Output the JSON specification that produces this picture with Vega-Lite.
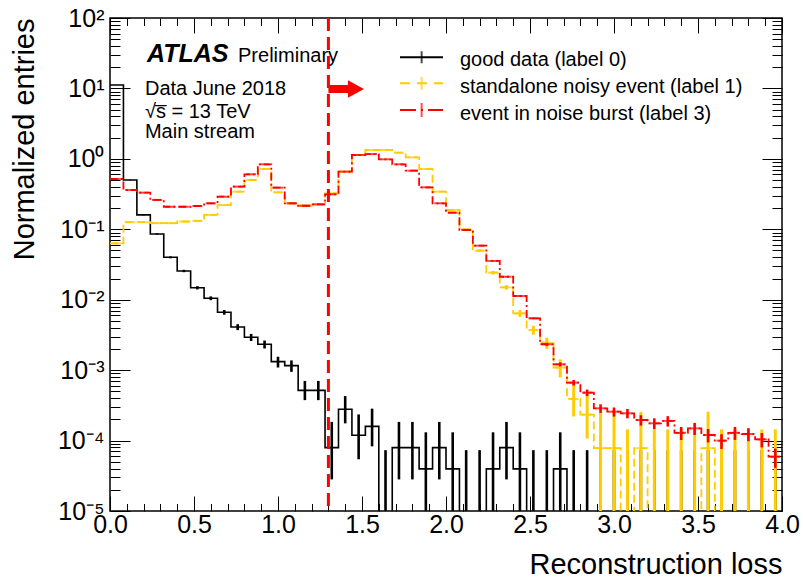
{
"$schema":"https://vega.github.io/schema/vega-lite/v6.json",
"width":672,"height":493,
"autosize":{"type":"none"},
"padding":{"left":110,"top":18,"right":21,"bottom":70},
"background":"#ffffff",
"config":{"view":{"stroke":"#000","strokeWidth":1.5},"font":"Liberation Sans",
 "axis":{"grid":false,"domain":false,"tickColor":"#000","tickWidth":1,"labelColor":"#000","titleColor":"#000","labelFont":"Liberation Sans","titleFont":"Liberation Sans","titleFontWeight":"normal"}},
"resolve":{"axis":{"x":"independent","y":"independent"}},
"datasets":{"h":[
{"s":"g","x0":0,"xc":0.04,"v":11.2,"lo":11.18,"hi":11.22},
{"s":"g","x0":0.08,"xc":0.12,"v":0.5,"lo":0.4955,"hi":0.5045},
{"s":"g","x0":0.16,"xc":0.2,"v":0.16,"lo":0.1575,"hi":0.1625},
{"s":"g","x0":0.24,"xc":0.28,"v":0.0857,"lo":0.0839,"hi":0.0875},
{"s":"g","x0":0.32,"xc":0.36,"v":0.04,"lo":0.0387,"hi":0.0413},
{"s":"g","x0":0.4,"xc":0.44,"v":0.0256,"lo":0.0246,"hi":0.0266},
{"s":"g","x0":0.48,"xc":0.52,"v":0.0148,"lo":0.014,"hi":0.0156},
{"s":"g","x0":0.56,"xc":0.6,"v":0.0105,"lo":0.00985,"hi":0.01115},
{"s":"g","x0":0.64,"xc":0.68,"v":0.00663,"lo":0.00612,"hi":0.00714},
{"s":"g","x0":0.72,"xc":0.76,"v":0.0041,"lo":0.0037,"hi":0.0045},
{"s":"g","x0":0.8,"xc":0.84,"v":0.00293,"lo":0.00259,"hi":0.00327},
{"s":"g","x0":0.88,"xc":0.92,"v":0.00233,"lo":0.00203,"hi":0.00263},
{"s":"g","x0":0.96,"xc":1.0,"v":0.00132,"lo":0.00109,"hi":0.00155},
{"s":"g","x0":1.04,"xc":1.08,"v":0.00116,"lo":0.000945,"hi":0.001375},
{"s":"g","x0":1.12,"xc":1.16,"v":0.000516,"lo":0.000375,"hi":0.000703},
{"s":"g","x0":1.2,"xc":1.24,"v":0.000516,"lo":0.000375,"hi":0.000703},
{"s":"g","x0":1.28,"xc":1.32,"v":0.0000794,"lo":0.0000281,"hi":0.000184},
{"s":"g","x0":1.36,"xc":1.4,"v":0.000278,"lo":0.0001755,"hi":0.000428},
{"s":"g","x0":1.44,"xc":1.48,"v":0.000119,"lo":0.0000543,"hi":0.000235},
{"s":"g","x0":1.52,"xc":1.56,"v":0.000159,"lo":0.0000828,"hi":0.000284},
{"s":"g","x0":1.6,"xc":1.64,"v":1e-7,"lo":1e-7,"hi":0.0000731},
{"s":"g","x0":1.68,"xc":1.72,"v":0.0000794,"lo":0.0000281,"hi":0.000184},
{"s":"g","x0":1.76,"xc":1.8,"v":0.0000794,"lo":0.0000281,"hi":0.000184},
{"s":"g","x0":1.84,"xc":1.88,"v":0.0000397,"lo":0.0000069,"hi":0.000131},
{"s":"g","x0":1.92,"xc":1.96,"v":0.0000794,"lo":0.0000281,"hi":0.000184},
{"s":"g","x0":2.0,"xc":2.04,"v":0.0000397,"lo":0.0000069,"hi":0.000131},
{"s":"g","x0":2.08,"xc":2.12,"v":1e-7,"lo":1e-7,"hi":0.0000731},
{"s":"g","x0":2.16,"xc":2.2,"v":1e-7,"lo":1e-7,"hi":0.0000731},
{"s":"g","x0":2.24,"xc":2.28,"v":0.0000397,"lo":0.0000069,"hi":0.000131},
{"s":"g","x0":2.32,"xc":2.36,"v":0.0000794,"lo":0.0000281,"hi":0.000184},
{"s":"g","x0":2.4,"xc":2.44,"v":0.0000397,"lo":0.0000069,"hi":0.000131},
{"s":"g","x0":2.48,"xc":2.52,"v":1e-7,"lo":1e-7,"hi":0.0000731},
{"s":"g","x0":2.56,"xc":2.6,"v":1e-7,"lo":1e-7,"hi":0.0000731},
{"s":"g","x0":2.64,"xc":2.68,"v":0.0000397,"lo":0.0000069,"hi":0.000131},
{"s":"g","x0":2.72,"xc":2.76,"v":1e-7,"lo":1e-7,"hi":0.0000731},
{"s":"g","x0":2.8,"xc":2.84,"v":1e-7,"lo":1e-7,"hi":0.0000731},
{"s":"g","x0":2.88,"xc":2.92,"v":1e-7,"lo":1e-7,"hi":0.0000731},
{"s":"g","x0":2.96,"xc":3.0,"v":1e-7,"lo":1e-7,"hi":0.0000731},
{"s":"g","x0":3.04,"xc":3.08,"v":1e-7,"lo":1e-7,"hi":0.0000731},
{"s":"g","x0":3.12,"xc":3.16,"v":1e-7,"lo":1e-7,"hi":0.0000731},
{"s":"g","x0":3.2,"xc":3.24,"v":1e-7,"lo":1e-7,"hi":0.0000731},
{"s":"g","x0":3.28,"xc":3.32,"v":1e-7,"lo":1e-7,"hi":0.0000731},
{"s":"g","x0":3.36,"xc":3.4,"v":1e-7,"lo":1e-7,"hi":0.0000731},
{"s":"g","x0":3.44,"xc":3.48,"v":1e-7,"lo":1e-7,"hi":0.0000731},
{"s":"g","x0":3.52,"xc":3.56,"v":1e-7,"lo":1e-7,"hi":0.0000731},
{"s":"g","x0":3.6,"xc":3.64,"v":1e-7,"lo":1e-7,"hi":0.0000731},
{"s":"g","x0":3.68,"xc":3.72,"v":1e-7,"lo":1e-7,"hi":0.0000731},
{"s":"g","x0":3.76,"xc":3.8,"v":1e-7,"lo":1e-7,"hi":0.0000731},
{"s":"g","x0":3.84,"xc":3.88,"v":1e-7,"lo":1e-7,"hi":0.0000731},
{"s":"g","x0":3.92,"xc":3.96,"v":1e-7,"lo":1e-7,"hi":0.0000731},
{"s":"g","x0":4.0,"v":1e-7},
{"s":"n","x0":0,"xc":0.04,"v":0.0632,"lo":0.061,"hi":0.0654},
{"s":"n","x0":0.08,"xc":0.12,"v":0.126,"lo":0.1229,"hi":0.1291},
{"s":"n","x0":0.16,"xc":0.2,"v":0.126,"lo":0.1229,"hi":0.1291},
{"s":"n","x0":0.24,"xc":0.28,"v":0.122,"lo":0.1189,"hi":0.1251},
{"s":"n","x0":0.32,"xc":0.36,"v":0.122,"lo":0.1189,"hi":0.1251},
{"s":"n","x0":0.4,"xc":0.44,"v":0.129,"lo":0.1258,"hi":0.1322},
{"s":"n","x0":0.48,"xc":0.52,"v":0.132,"lo":0.1288,"hi":0.1352},
{"s":"n","x0":0.56,"xc":0.6,"v":0.16,"lo":0.1565,"hi":0.1635},
{"s":"n","x0":0.64,"xc":0.68,"v":0.221,"lo":0.2168,"hi":0.2252},
{"s":"n","x0":0.72,"xc":0.76,"v":0.342,"lo":0.3369,"hi":0.3471},
{"s":"n","x0":0.8,"xc":0.84,"v":0.501,"lo":0.4947,"hi":0.5073},
{"s":"n","x0":0.88,"xc":0.92,"v":0.718,"lo":0.7105,"hi":0.7255},
{"s":"n","x0":0.96,"xc":1.0,"v":0.335,"lo":0.33,"hi":0.34},
{"s":"n","x0":1.04,"xc":1.08,"v":0.234,"lo":0.2298,"hi":0.2382},
{"s":"n","x0":1.12,"xc":1.16,"v":0.216,"lo":0.2119,"hi":0.2201},
{"s":"n","x0":1.2,"xc":1.24,"v":0.226,"lo":0.2218,"hi":0.2302},
{"s":"n","x0":1.28,"xc":1.32,"v":0.324,"lo":0.319,"hi":0.329},
{"s":"n","x0":1.36,"xc":1.4,"v":0.658,"lo":0.6508,"hi":0.6652},
{"s":"n","x0":1.44,"xc":1.48,"v":1.135,"lo":1.1256,"hi":1.1444},
{"s":"n","x0":1.52,"xc":1.56,"v":1.336,"lo":1.3258,"hi":1.3462},
{"s":"n","x0":1.6,"xc":1.64,"v":1.336,"lo":1.3258,"hi":1.3462},
{"s":"n","x0":1.68,"xc":1.72,"v":1.223,"lo":1.2132,"hi":1.2328},
{"s":"n","x0":1.76,"xc":1.8,"v":1.052,"lo":1.043,"hi":1.061},
{"s":"n","x0":1.84,"xc":1.88,"v":0.718,"lo":0.7105,"hi":0.7255},
{"s":"n","x0":1.92,"xc":1.96,"v":0.342,"lo":0.3369,"hi":0.3471},
{"s":"n","x0":2.0,"xc":2.04,"v":0.188,"lo":0.1842,"hi":0.1918},
{"s":"n","x0":2.08,"xc":2.12,"v":0.1,"lo":0.0972,"hi":0.1028},
{"s":"n","x0":2.16,"xc":2.2,"v":0.0497,"lo":0.0477,"hi":0.0517},
{"s":"n","x0":2.24,"xc":2.28,"v":0.0242,"lo":0.0228,"hi":0.0256},
{"s":"n","x0":2.32,"xc":2.36,"v":0.015,"lo":0.0139,"hi":0.0161},
{"s":"n","x0":2.4,"xc":2.44,"v":0.00641,"lo":0.0057,"hi":0.00712},
{"s":"n","x0":2.48,"xc":2.52,"v":0.00372,"lo":0.00318,"hi":0.00426},
{"s":"n","x0":2.56,"xc":2.6,"v":0.00245,"lo":0.00201,"hi":0.00289},
{"s":"n","x0":2.64,"xc":2.68,"v":0.00109,"lo":0.00079,"hi":0.00142},
{"s":"n","x0":2.72,"xc":2.76,"v":0.00039,"lo":0.00022,"hi":0.00065},
{"s":"n","x0":2.8,"xc":2.84,"v":0.000234,"lo":0.000107,"hi":0.000462},
{"s":"n","x0":2.88,"xc":2.92,"v":0.000078,"lo":0.000009,"hi":0.000257},
{"s":"n","x0":2.96,"xc":3.0,"v":0.000078,"lo":0.000009,"hi":0.000257},
{"s":"n","x0":3.04,"xc":3.08,"v":1e-7,"lo":1e-7,"hi":0.000144},
{"s":"n","x0":3.12,"xc":3.16,"v":0.000078,"lo":0.000009,"hi":0.000257},
{"s":"n","x0":3.2,"xc":3.24,"v":1e-7,"lo":1e-7,"hi":0.000144},
{"s":"n","x0":3.28,"xc":3.32,"v":1e-7,"lo":1e-7,"hi":0.000144},
{"s":"n","x0":3.36,"xc":3.4,"v":1e-7,"lo":1e-7,"hi":0.000144},
{"s":"n","x0":3.44,"xc":3.48,"v":1e-7,"lo":1e-7,"hi":0.000144},
{"s":"n","x0":3.52,"xc":3.56,"v":0.000078,"lo":0.000009,"hi":0.000257},
{"s":"n","x0":3.6,"xc":3.64,"v":1e-7,"lo":1e-7,"hi":0.000144},
{"s":"n","x0":3.68,"xc":3.72,"v":1e-7,"lo":1e-7,"hi":0.000144},
{"s":"n","x0":3.76,"xc":3.8,"v":1e-7,"lo":1e-7,"hi":0.000144},
{"s":"n","x0":3.84,"xc":3.88,"v":1e-7,"lo":1e-7,"hi":0.000144},
{"s":"n","x0":3.92,"xc":3.96,"v":1e-7,"lo":1e-7,"hi":0.000144},
{"s":"n","x0":4.0,"v":1e-7},
{"s":"b","x0":0,"xc":0.04,"v":0.518,"lo":0.5163,"hi":0.5197},
{"s":"b","x0":0.08,"xc":0.12,"v":0.361,"lo":0.3596,"hi":0.3624},
{"s":"b","x0":0.16,"xc":0.2,"v":0.331,"lo":0.3296,"hi":0.3324},
{"s":"b","x0":0.24,"xc":0.28,"v":0.261,"lo":0.2598,"hi":0.2622},
{"s":"b","x0":0.32,"xc":0.36,"v":0.209,"lo":0.2079,"hi":0.2101},
{"s":"b","x0":0.4,"xc":0.44,"v":0.209,"lo":0.2079,"hi":0.2101},
{"s":"b","x0":0.48,"xc":0.52,"v":0.214,"lo":0.2129,"hi":0.2151},
{"s":"b","x0":0.56,"xc":0.6,"v":0.234,"lo":0.2329,"hi":0.2351},
{"s":"b","x0":0.64,"xc":0.68,"v":0.29,"lo":0.2887,"hi":0.2913},
{"s":"b","x0":0.72,"xc":0.76,"v":0.403,"lo":0.4015,"hi":0.4045},
{"s":"b","x0":0.8,"xc":0.84,"v":0.604,"lo":0.6022,"hi":0.6058},
{"s":"b","x0":0.88,"xc":0.92,"v":0.837,"lo":0.8348,"hi":0.8392},
{"s":"b","x0":0.96,"xc":1.0,"v":0.39,"lo":0.3885,"hi":0.3915},
{"s":"b","x0":1.04,"xc":1.08,"v":0.234,"lo":0.2329,"hi":0.2351},
{"s":"b","x0":1.12,"xc":1.16,"v":0.216,"lo":0.2149,"hi":0.2171},
{"s":"b","x0":1.2,"xc":1.24,"v":0.226,"lo":0.2249,"hi":0.2271},
{"s":"b","x0":1.28,"xc":1.32,"v":0.314,"lo":0.3127,"hi":0.3153},
{"s":"b","x0":1.36,"xc":1.4,"v":0.658,"lo":0.6561,"hi":0.6599},
{"s":"b","x0":1.44,"xc":1.48,"v":1.135,"lo":1.1325,"hi":1.1375},
{"s":"b","x0":1.52,"xc":1.56,"v":1.17,"lo":1.1675,"hi":1.1725},
{"s":"b","x0":1.6,"xc":1.64,"v":0.986,"lo":0.9837,"hi":0.9883},
{"s":"b","x0":1.68,"xc":1.72,"v":0.837,"lo":0.8348,"hi":0.8392},
{"s":"b","x0":1.76,"xc":1.8,"v":0.679,"lo":0.6771,"hi":0.6809},
{"s":"b","x0":1.84,"xc":1.88,"v":0.394,"lo":0.3925,"hi":0.3955},
{"s":"b","x0":1.92,"xc":1.96,"v":0.234,"lo":0.2329,"hi":0.2351},
{"s":"b","x0":2.0,"xc":2.04,"v":0.172,"lo":0.171,"hi":0.173},
{"s":"b","x0":2.08,"xc":2.12,"v":0.0977,"lo":0.097,"hi":0.0984},
{"s":"b","x0":2.16,"xc":2.2,"v":0.0585,"lo":0.0579,"hi":0.0591},
{"s":"b","x0":2.24,"xc":2.28,"v":0.0355,"lo":0.0351,"hi":0.0359},
{"s":"b","x0":2.32,"xc":2.36,"v":0.0212,"lo":0.0209,"hi":0.0215},
{"s":"b","x0":2.4,"xc":2.44,"v":0.0113,"lo":0.01105,"hi":0.01155},
{"s":"b","x0":2.48,"xc":2.52,"v":0.00545,"lo":0.00528,"hi":0.00562},
{"s":"b","x0":2.56,"xc":2.6,"v":0.00233,"lo":0.002216,"hi":0.002444},
{"s":"b","x0":2.64,"xc":2.68,"v":0.00121,"lo":0.001129,"hi":0.001291},
{"s":"b","x0":2.72,"xc":2.76,"v":0.000664,"lo":0.000604,"hi":0.000724},
{"s":"b","x0":2.8,"xc":2.84,"v":0.000479,"lo":0.000428,"hi":0.00053},
{"s":"b","x0":2.88,"xc":2.92,"v":0.000287,"lo":0.000247,"hi":0.000327},
{"s":"b","x0":2.96,"xc":3.0,"v":0.000257,"lo":0.000219,"hi":0.000295},
{"s":"b","x0":3.04,"xc":3.08,"v":0.000244,"lo":0.000207,"hi":0.000281},
{"s":"b","x0":3.12,"xc":3.16,"v":0.000196,"lo":0.000163,"hi":0.000229},
{"s":"b","x0":3.2,"xc":3.24,"v":0.000176,"lo":0.000145,"hi":0.000207},
{"s":"b","x0":3.28,"xc":3.32,"v":0.00019,"lo":0.000158,"hi":0.000222},
{"s":"b","x0":3.36,"xc":3.4,"v":0.000129,"lo":0.000102,"hi":0.000156},
{"s":"b","x0":3.44,"xc":3.48,"v":0.000149,"lo":0.00012,"hi":0.000178},
{"s":"b","x0":3.52,"xc":3.56,"v":0.00012,"lo":0.000094,"hi":0.000146},
{"s":"b","x0":3.6,"xc":3.64,"v":0.0000996,"lo":0.000076,"hi":0.000123},
{"s":"b","x0":3.68,"xc":3.72,"v":0.000129,"lo":0.000102,"hi":0.000156},
{"s":"b","x0":3.76,"xc":3.8,"v":0.000124,"lo":0.000098,"hi":0.00015},
{"s":"b","x0":3.84,"xc":3.88,"v":0.000104,"lo":0.00008,"hi":0.000128},
{"s":"b","x0":3.92,"xc":3.96,"v":0.000059,"lo":0.000041,"hi":0.000077},
{"s":"b","x0":4.0,"v":0.000059}
],
"one":[{"k":1}]},
"data":{"name":"h"},
"layer":[
{"transform":[{"filter":"datum.s=='g'"}],
 "mark":{"type":"line","interpolate":"step-after","color":"#000","strokeWidth":1.6,"clip":true},
 "encoding":{
  "x":{"field":"x0","type":"quantitative","scale":{"domain":[0,4],"nice":false,"zero":false},
   "axis":{"orient":"bottom","values":[0,0.5,1,1.5,2,2.5,3,3.5,4],"format":".1f","tickSize":-15,"labelPadding":16,"labelFontSize":25,"labelFlush":false,"labelOverlap":false,"title":"Reconstruction loss","titleFontSize":29,"titleAnchor":"end","titlePadding":13}},
  "y":{"field":"v","type":"quantitative","scale":{"type":"log","domain":[0.00001,100],"nice":false},
   "axis":{"orient":"left","values":[0.00001,0.0001,0.001,0.01,0.1,1,10,100],"tickSize":-20,"labelPadding":26,"labelFontSize":25,"labelFlush":false,"labelOverlap":false,
    "labelExpr":"datum.value >= 50 ? '10²' : datum.value >= 5 ? '10¹' : datum.value >= 0.5 ? '10⁰' : datum.value >= 0.05 ? '10⁻¹' : datum.value >= 0.005 ? '10⁻²' : datum.value >= 0.0005 ? '10⁻³' : datum.value >= 0.00005 ? '10⁻⁴' : '10⁻⁵'",
    "title":"Normalized entries","titleFontSize":29,"titleAnchor":"end","titlePadding":18}}}},
{"transform":[{"filter":"datum.s=='g' && isValid(datum.xc)"}],
 "mark":{"type":"rule","color":"#000","strokeWidth":2.6,"clip":true},
 "encoding":{"x":{"field":"xc","type":"quantitative","scale":{"domain":[0,4],"nice":false,"zero":false},"axis":null},
  "y":{"field":"lo","type":"quantitative","scale":{"type":"log","domain":[0.00001,100],"nice":false},"axis":null},"y2":{"field":"hi"}}},
{"transform":[{"filter":"datum.s=='n'"}],
 "mark":{"type":"line","interpolate":"step-after","color":"#ffcc00","strokeWidth":1.8,"strokeDash":[8,4],"clip":true},
 "encoding":{
  "x":{"field":"x0","type":"quantitative","scale":{"domain":[0,4],"nice":false,"zero":false},
   "axis":{"orient":"bottom","values":[0.1,0.2,0.3,0.4,0.6,0.7,0.8,0.9,1.1,1.2,1.3,1.4,1.6,1.7,1.8,1.9,2.1,2.2,2.3,2.4,2.6,2.7,2.8,2.9,3.1,3.2,3.3,3.4,3.6,3.7,3.8,3.9],"tickSize":-7.5,"labels":false,"title":null}},
  "y":{"field":"v","type":"quantitative","scale":{"type":"log","domain":[0.00001,100],"nice":false},
   "axis":{"orient":"left","values":[0.00002,0.00003,0.00004,0.00005,0.00006,0.00007,0.00008,0.00009,0.0002,0.0003,0.0004,0.0005,0.0006,0.0007,0.0008,0.0009,0.002,0.003,0.004,0.005,0.006,0.007,0.008,0.009,0.02,0.03,0.04,0.05,0.06,0.07,0.08,0.09,0.2,0.3,0.4,0.5,0.6,0.7,0.8,0.9,2,3,4,5,6,7,8,9,20,30,40,50,60,70,80,90],"tickSize":-10,"labels":false,"title":null}}}},
{"transform":[{"filter":"datum.s=='n' && isValid(datum.xc)"}],
 "mark":{"type":"rule","color":"#ffcc00","strokeWidth":3,"clip":true},
 "encoding":{"x":{"field":"xc","type":"quantitative","axis":null},
  "y":{"field":"lo","type":"quantitative","axis":null},"y2":{"field":"hi"}}},
{"transform":[{"filter":"datum.s=='n' && isValid(datum.xc) && datum.v > 0.000001"}],
 "mark":{"type":"tick","orient":"horizontal","color":"#ffcc00","size":10,"thickness":2,"clip":true},
 "encoding":{"x":{"field":"xc","type":"quantitative","axis":null},
  "y":{"field":"v","type":"quantitative","axis":null}}},
{"transform":[{"filter":"datum.s=='b'"}],
 "mark":{"type":"line","interpolate":"step-after","color":"#ff0000","strokeWidth":1.8,"strokeDash":[8,3,2,3],"clip":true},
 "encoding":{
  "x":{"field":"x0","type":"quantitative","scale":{"domain":[0,4],"nice":false,"zero":false},
   "axis":{"orient":"top","values":[0,0.5,1,1.5,2,2.5,3,3.5,4],"tickSize":-15,"labels":false,"title":null}},
  "y":{"field":"v","type":"quantitative","scale":{"type":"log","domain":[0.00001,100],"nice":false},
   "axis":{"orient":"right","values":[0.00001,0.0001,0.001,0.01,0.1,1,10,100],"tickSize":-20,"labels":false,"title":null}}}},
{"transform":[{"filter":"datum.s=='b' && isValid(datum.xc)"}],
 "mark":{"type":"rule","color":"#ff0000","strokeWidth":2.6,"clip":true},
 "encoding":{"x":{"field":"xc","type":"quantitative","scale":{"domain":[0,4],"nice":false,"zero":false},
   "axis":{"orient":"top","values":[0.1,0.2,0.3,0.4,0.6,0.7,0.8,0.9,1.1,1.2,1.3,1.4,1.6,1.7,1.8,1.9,2.1,2.2,2.3,2.4,2.6,2.7,2.8,2.9,3.1,3.2,3.3,3.4,3.6,3.7,3.8,3.9],"tickSize":-7.5,"labels":false,"title":null}},
  "y":{"field":"lo","type":"quantitative","scale":{"type":"log","domain":[0.00001,100],"nice":false},
   "axis":{"orient":"right","values":[0.00002,0.00003,0.00004,0.00005,0.00006,0.00007,0.00008,0.00009,0.0002,0.0003,0.0004,0.0005,0.0006,0.0007,0.0008,0.0009,0.002,0.003,0.004,0.005,0.006,0.007,0.008,0.009,0.02,0.03,0.04,0.05,0.06,0.07,0.08,0.09,0.2,0.3,0.4,0.5,0.6,0.7,0.8,0.9,2,3,4,5,6,7,8,9,20,30,40,50,60,70,80,90],"tickSize":-10,"labels":false,"title":null}},
  "y2":{"field":"hi"}}},
{"transform":[{"filter":"datum.s=='b' && isValid(datum.xc)"}],
 "mark":{"type":"tick","orient":"horizontal","color":"#ff0000","size":10,"thickness":2,"clip":true},
 "encoding":{"x":{"field":"xc","type":"quantitative","axis":null},
  "y":{"field":"v","type":"quantitative","axis":null}}},
{"data":{"name":"one"},
 "mark":{"type":"rule","color":"#ff0000","strokeWidth":3,"strokeDash":[13,6]},
 "encoding":{"x":{"datum":1.3,"type":"quantitative","axis":null}}},
{"data":{"name":"one"},
 "mark":{"type":"rule","color":"#ff0000","strokeWidth":8,"strokeCap":"butt"},
 "encoding":{"x":{"datum":1.3,"type":"quantitative","axis":null},"x2":{"datum":1.42},"y":{"datum":9.82,"type":"quantitative","axis":null}}},
{"data":{"name":"one"},
 "mark":{"type":"point","shape":"M-1,-1.1L1,0L-1,1.1Z","filled":true,"color":"#ff0000","opacity":1,"size":256},
 "encoding":{"x":{"datum":1.464,"type":"quantitative","axis":null},"y":{"datum":9.82,"type":"quantitative","axis":null}}},
{"data":{"name":"one"},
 "mark":{"type":"text","text":"ATLAS","fontSize":25,"fontWeight":"bold","fontStyle":"italic","align":"left","baseline":"alphabetic","color":"#000"},
 "encoding":{"x":{"datum":0.22,"type":"quantitative","axis":null},"y":{"datum":23.7,"type":"quantitative","axis":null}}},
{"data":{"name":"one"},
 "mark":{"type":"text","text":"Preliminary","fontSize":20,"align":"left","baseline":"alphabetic","color":"#000"},
 "encoding":{"x":{"datum":0.762,"type":"quantitative","axis":null},"y":{"datum":23.7,"type":"quantitative","axis":null}}},
{"data":{"name":"one"},
 "mark":{"type":"text","text":"Data June 2018","fontSize":20,"align":"left","baseline":"alphabetic","color":"#000"},
 "encoding":{"x":{"datum":0.208,"type":"quantitative","axis":null},"y":{"datum":8.07,"type":"quantitative","axis":null}}},
{"data":{"name":"one"},
 "mark":{"type":"text","text":"√s̅ = 13 TeV","fontSize":20,"align":"left","baseline":"alphabetic","color":"#000"},
 "encoding":{"x":{"datum":0.208,"type":"quantitative","axis":null},"y":{"datum":3.8,"type":"quantitative","axis":null}}},
{"data":{"name":"one"},
 "mark":{"type":"text","text":"Main stream","fontSize":20,"align":"left","baseline":"alphabetic","color":"#000"},
 "encoding":{"x":{"datum":0.208,"type":"quantitative","axis":null},"y":{"datum":1.98,"type":"quantitative","axis":null}}},
{"data":{"name":"one"},
 "mark":{"type":"rule","color":"#000","strokeWidth":2},
 "encoding":{"x":{"datum":1.726,"type":"quantitative","axis":null},"x2":{"datum":1.982},"y":{"datum":27.7,"type":"quantitative","axis":null}}},
{"data":{"name":"one"},
 "mark":{"type":"tick","orient":"vertical","color":"#000","size":12,"thickness":2},
 "encoding":{"x":{"datum":1.855,"type":"quantitative","axis":null},"y":{"datum":27.7,"type":"quantitative","axis":null}}},
{"data":{"name":"one"},
 "mark":{"type":"text","text":"good data (label 0)","fontSize":20,"align":"left","baseline":"alphabetic","color":"#000"},
 "encoding":{"x":{"datum":2.083,"type":"quantitative","axis":null},"y":{"datum":20.8,"type":"quantitative","axis":null}}},
{"data":{"name":"one"},
 "mark":{"type":"rule","color":"#ffcc00","strokeWidth":2,"strokeDash":[10,7]},
 "encoding":{"x":{"datum":1.726,"type":"quantitative","axis":null},"x2":{"datum":1.982},"y":{"datum":11.8,"type":"quantitative","axis":null}}},
{"data":{"name":"one"},
 "mark":{"type":"tick","orient":"vertical","color":"#ffcc00","size":13,"thickness":2},
 "encoding":{"x":{"datum":1.855,"type":"quantitative","axis":null},"y":{"datum":11.8,"type":"quantitative","axis":null}}},
{"data":{"name":"one"},
 "mark":{"type":"text","text":"standalone noisy event (label 1)","fontSize":20,"align":"left","baseline":"alphabetic","color":"#000"},
 "encoding":{"x":{"datum":2.083,"type":"quantitative","axis":null},"y":{"datum":8.53,"type":"quantitative","axis":null}}},
{"data":{"name":"one"},
 "mark":{"type":"rule","color":"#ff0000","strokeWidth":2,"strokeDash":[16,5,2,5]},
 "encoding":{"x":{"datum":1.726,"type":"quantitative","axis":null},"x2":{"datum":1.982},"y":{"datum":4.94,"type":"quantitative","axis":null}}},
{"data":{"name":"one"},
 "mark":{"type":"tick","orient":"vertical","color":"#ff0000","size":14,"thickness":2},
 "encoding":{"x":{"datum":1.855,"type":"quantitative","axis":null},"y":{"datum":4.94,"type":"quantitative","axis":null}}},
{"data":{"name":"one"},
 "mark":{"type":"text","text":"event in noise burst (label 3)","fontSize":20,"align":"left","baseline":"alphabetic","color":"#000"},
 "encoding":{"x":{"datum":2.083,"type":"quantitative","axis":null},"y":{"datum":3.6,"type":"quantitative","axis":null}}}
]
}
